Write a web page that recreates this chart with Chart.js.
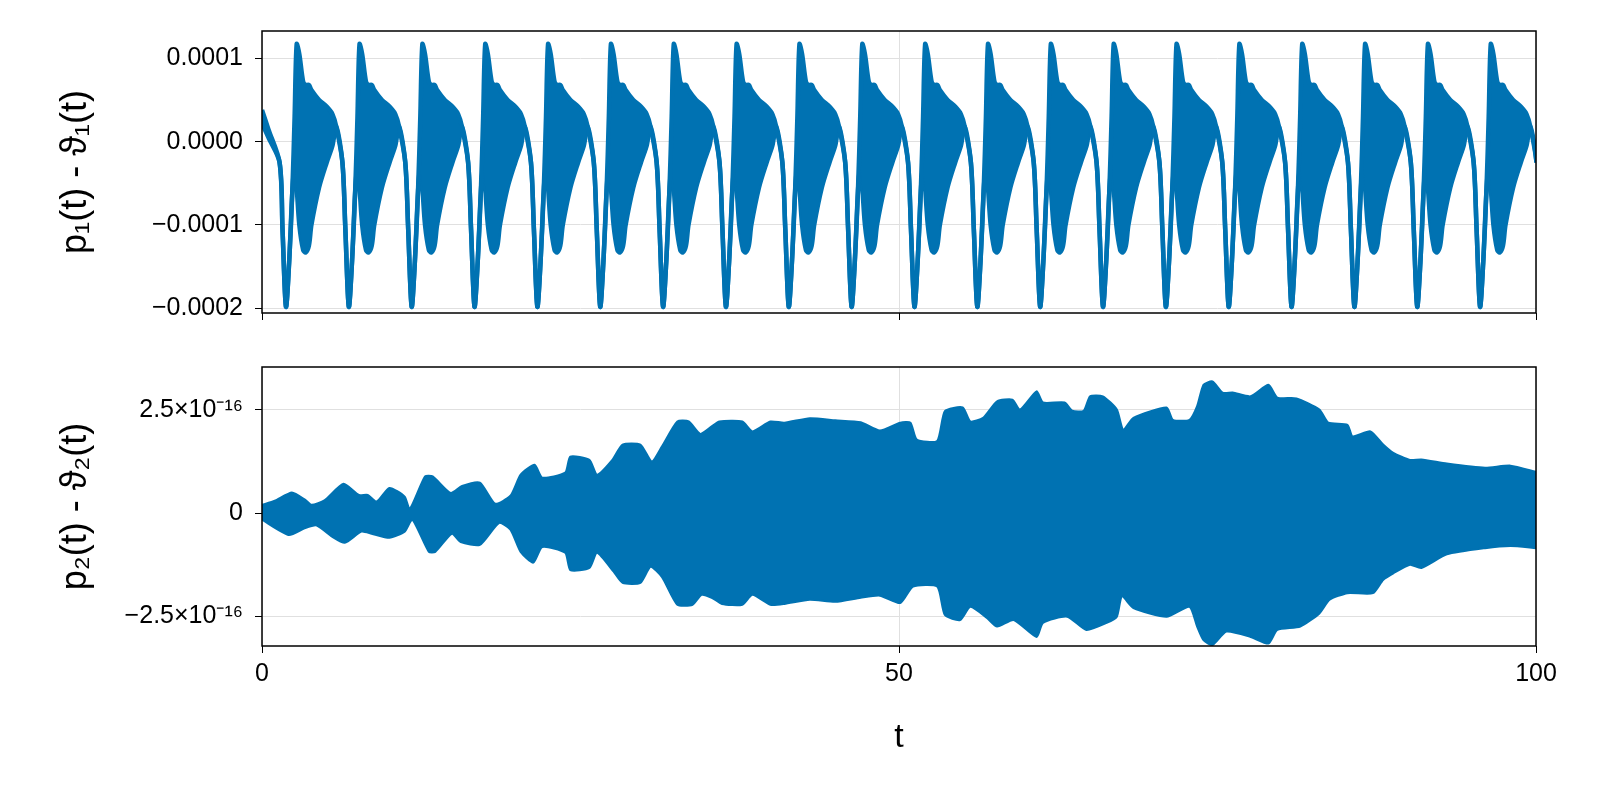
<!DOCTYPE html>
<html><head><meta charset="utf-8">
<script src="https://cdn.jsdelivr.net/npm/chart.js@4"></script>
<style>
html,body{margin:0;padding:0;background:#fff;width:1600px;height:800px;overflow:hidden}
#c1{position:absolute;left:0;top:0}
#c2{position:absolute;left:0;top:340px}
</style></head><body>
<canvas id="c1" width="1600" height="340"></canvas>
<canvas id="c2" width="1600" height="460"></canvas>
<script>
// ---- top panel data (units of 1e-4), one repeating cycle ----
const topStartT = [0, 0.5];
const topStartUpper = [0.38, 0.15];
const topStartLower = [0.22, 0.05];
const firstDipT = 1.88;
const cyclePeriod = 4.933;
const cycleCount = 21;
const cycleOffsets = [-0.5, -0.27, 0, 0.25, 0.5, 0.68, 0.84, 1.05, 1.35, 1.55, 1.8, 2.0, 2.6, 3.2, 3.65, 3.95];
const cycleUpper  = [-0.25, -1.05, -1.98, -1.45, -0.6, 0.3, 1.17, 1.05, 0.72, 0.68, 0.68, 0.62, 0.5, 0.42, 0.33, 0.18];
const cycleLower  = [-0.25, -1.05, -1.98, -1.45, -0.6, -0.3, -0.55, -1.0, -1.3, -1.33, -1.25, -1.0, -0.55, -0.25, -0.05, 0.18];
const topTicks = [-2, -1, 0, 1];
const topTickLabels = ['\u22120.0002', '\u22120.0001', '0.0000', '0.0001'];

// ---- bottom panel envelopes (units of 1e-16) ----
const botUpperT = [0,1,2.35,3.4,3.9,4.9,6.4,7.6,8.3,9,10,11.2,11.6,12.8,13.4,14.8,15.7,17.1,18.3,19.5,20.3,21.4,22,23.8,24.2,25.7,26.3,27.5,28.3,29.7,30.6,31.4,32.6,33.5,34.4,35.3,35.9,37.7,38.5,39.9,41,43,45,47,48.5,50.1,50.9,51.4,53,53.6,55,55.6,56.6,57.7,58.9,59.5,60.8,61.3,63,63.6,64.5,65,66,67.1,67.6,68.4,71,71.5,72.8,73.4,73.9,74.6,75.4,76.2,77.6,79,79.7,81.2,83,83.7,85.2,85.6,87,88,88.8,90.1,91,93,96,98,100];
const botUpper = [0.2,0.3,0.5,0.32,0.2,0.31,0.71,0.44,0.44,0.28,0.61,0.4,0.1,0.89,0.89,0.49,0.66,0.74,0.23,0.42,0.93,1.17,0.86,0.98,1.37,1.29,0.93,1.29,1.66,1.66,1.25,1.62,2.22,2.22,1.92,2.1,2.22,2.22,1.98,2.22,2.19,2.3,2.25,2.2,2.0,2.19,2.19,1.78,1.75,2.47,2.56,2.22,2.31,2.71,2.75,2.51,2.95,2.68,2.68,2.48,2.48,2.83,2.83,2.51,2.02,2.31,2.56,2.26,2.26,2.59,3.11,3.19,2.92,2.92,2.83,3.11,2.8,2.78,2.51,2.19,2.14,1.86,1.98,1.66,1.46,1.29,1.3,1.2,1.1,1.15,1.0];
const botLowerT = [0,2.1,3.4,4.3,5.5,6.5,7.8,8.6,10,11.2,11.8,13.1,13.6,14.9,15.6,17.1,18.6,19.5,20.3,21.3,22,23.8,24.2,25.7,26.3,27.6,28.3,29.7,30.5,31.4,32.6,33.8,34.5,35.3,36.1,37.7,38.5,39.9,41,43,45,47,48.5,50.1,51.1,53,53.6,54.8,55.6,56.9,57.7,59,60.8,61.3,63.2,64.7,66.3,67.1,67.5,68.4,71,72.8,73.4,73.9,74.6,75.7,77.6,79,79.7,81.5,83,83.8,85.2,87.2,88,88.8,90.1,91,93,96,98,100];
const botLower = [-0.16,-0.53,-0.36,-0.3,-0.57,-0.72,-0.45,-0.5,-0.6,-0.45,-0.16,-0.94,-0.94,-0.5,-0.7,-0.77,-0.24,-0.4,-0.94,-1.2,-0.82,-0.96,-1.38,-1.33,-0.96,-1.42,-1.69,-1.69,-1.3,-1.55,-2.22,-2.22,-1.98,-2.05,-2.2,-2.22,-1.98,-2.22,-2.2,-2.1,-2.15,-2.05,-2.0,-2.18,-1.78,-1.78,-2.47,-2.59,-2.27,-2.54,-2.75,-2.59,-3.0,-2.66,-2.51,-2.83,-2.66,-2.51,-2.02,-2.3,-2.51,-2.27,-2.75,-3.08,-3.2,-2.87,-3.0,-3.16,-2.83,-2.75,-2.43,-2.1,-1.94,-1.94,-1.62,-1.46,-1.25,-1.33,-1.0,-0.85,-0.8,-0.85];
const botTicks = [-2.5, 0, 2.5];
const botTickLabels = ['\u22122.5\u00d710\u207b\u00b9\u2076', '0', '2.5\u00d710\u207b\u00b9\u2076'];
const xTicks = [0, 50, 100];

const BLUE = 'rgb(0,114,178)';
const FONT = '"Liberation Sans", Arial, sans-serif';

const topU = [], topL = [];
topStartT.forEach((t,i)=>{topU.push({x:t,y:topStartUpper[i]});topL.push({x:t,y:topStartLower[i]});});
for (let k=0;k<cycleCount;k++){
  const d = firstDipT + k*cyclePeriod;
  cycleOffsets.forEach((o,i)=>{topU.push({x:d+o,y:cycleUpper[i]});topL.push({x:d+o,y:cycleLower[i]});});
}
const botU = botUpperT.map((t,i)=>({x:t,y:botUpper[i]}));
const botL = botLowerT.map((t,i)=>({x:t,y:botLower[i]}));

const frame = {id:'frame', afterDraw(c){const a=c.chartArea,x=c.ctx;x.save();x.strokeStyle='#000';x.lineWidth=1.5;x.strokeRect(a.left,a.top,a.right-a.left,a.bottom-a.top);x.restore();}};

function mkChart(id, datasets, yTicks, yLabels, yMin, yMax, yTitle, showX, padTop, xAxisH, padBottom){
  return new Chart(document.getElementById(id), {
    type:'line',
    data:{datasets},
    plugins:[frame],
    options:{
      responsive:false, animation:false, devicePixelRatio:1,
      layout:{padding:{top:padTop,right:64,left:50,bottom:padBottom}},
      plugins:{legend:{display:false},tooltip:{enabled:false}},
      elements:{point:{radius:0}, line:{tension:0.3}},
      scales:{
        x:{type:'linear',min:0,max:100,
          afterBuildTicks:s=>{s.ticks=xTicks.map(v=>({value:v}));},
          afterFit:s=>{s.height=xAxisH;},
          grid:{color:'#e0e0e0',tickColor:'#000',tickLength:7,lineWidth:1},
          border:{display:false},
          ticks:{display:showX,color:'#000',font:{family:FONT,size:25},padding:6,maxRotation:0},
          title:{display:showX,text:'t',color:'#000',font:{family:FONT,size:34},padding:{top:6,bottom:0}}
        },
        y:{type:'linear',min:yMin,max:yMax,
          afterBuildTicks:s=>{s.ticks=yTicks.map(v=>({value:v}));},
          afterFit:s=>{s.width=212;},
          grid:{color:'#e0e0e0',tickColor:'#000',tickLength:7,lineWidth:1},
          border:{display:false},
          ticks:{color:'#000',font:{family:FONT,size:25},padding:12,callback:(v)=>{const i=yTicks.indexOf(v);return i>=0?yLabels[i]:'';}},
          title:{display:true,text:yTitle,color:'#000',font:{family:FONT,size:36},padding:{bottom:4}}
        }
      }
    }
  });
}

mkChart('c1', [
  {data:topU, borderColor:BLUE, borderWidth:4.5, backgroundColor:BLUE, fill:'+1'},
  {data:topL, borderColor:BLUE, borderWidth:4.5, fill:false}
], topTicks, topTickLabels, -2.056, 1.327, 'p\u2081(t) - \u03d1\u2081(t)', false, 31, 26, 0);

mkChart('c2', [
  {data:botU, borderColor:BLUE, borderWidth:2, backgroundColor:BLUE, fill:'origin', tension:0.2},
  {data:botL, borderColor:BLUE, borderWidth:2, backgroundColor:BLUE, fill:'origin', tension:0.2}
], botTicks, botTickLabels, -3.22, 3.54, 'p\u2082(t) - \u03d1\u2082(t)', true, 21, 112, 42);
</script>
</body></html>
